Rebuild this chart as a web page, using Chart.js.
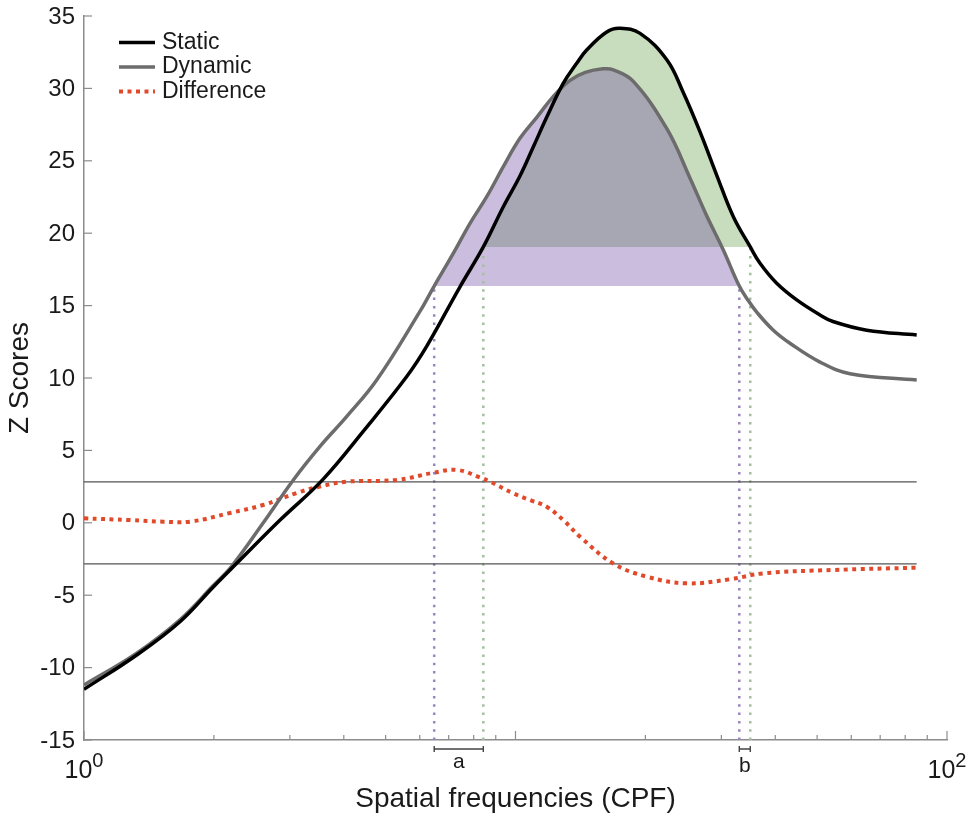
<!DOCTYPE html>
<html>
<head>
<meta charset="utf-8">
<script src="https://cdn.jsdelivr.net/npm/chart.js@4.4.1/dist/chart.umd.min.js"></script>
<style>
    html, body { margin: 0; padding: 0; background: #fff; }
    #wrap { width: 973px; height: 819px; position: relative; }
</style>
</head>
<body>
<div id="wrap"><canvas id="zChart"></canvas></div>
<script>
// --- Values (x = spatial frequency in CPF, y = Z score) ---
const staticFreq = [1, 1.325, 1.669, 1.991, 2.259, 2.847, 3.58, 4.432, 5.597, 6.228, 7.436, 8.422, 9.37, 10.24, 11.0, 11.81, 12.9, 13.86, 14.62, 16.27, 17.47, 19.44, 22.44, 24.45, 26.77, 29.27, 31.98, 35.0, 36.87, 40.3, 44.85, 50.78, 54.42, 65.15, 85.07];
const staticZ = [-11.5, -9.13, -6.83, -4.45, -2.8, 0.19, 3.0, 6.3, 10.1, 12.2, 16.3, 19.05, 21.83, 23.95, 25.97, 28.0, 30.35, 31.73, 32.65, 33.9, 34.15, 33.8, 31.96, 29.75, 27.0, 24.0, 21.14, 19.05, 17.92, 16.54, 15.39, 14.35, 13.9, 13.3, 12.97];

const dynamicFreq = [1, 1.325, 1.669, 1.991, 2.199, 2.603, 3.056, 3.52, 4.06, 4.768, 6.006, 6.48, 7.174, 7.845, 8.577, 9.37, 10.24, 11.2, 12.24, 13.38, 14.51, 15.95, 16.86, 18.73, 22.44, 25.38, 27.74, 30.31, 33.01, 34.63, 36.22, 39.58, 43.26, 50.78, 59.6, 85.07];
const dynamicZ = [-11.2, -9.0, -6.7, -4.35, -3.0, 0.0, 2.96, 5.26, 7.33, 9.86, 14.6, 16.35, 18.6, 20.68, 22.52, 24.59, 26.55, 28.0, 29.45, 30.55, 31.1, 31.35, 31.28, 30.5, 27.2, 23.8, 21.2, 18.84, 16.35, 15.35, 14.55, 13.3, 12.4, 11.1, 10.3, 9.86];

const diffFreq = [1, 1.278, 1.524, 1.761, 2.18, 2.6, 3.11, 3.52, 4.06, 5.31, 6.44, 7.31, 8.27, 8.73, 9.87, 10.8, 11.81, 12.9, 14.11, 16.83, 20.14, 24.94, 31.42, 37.53, 54.4, 85.07];
const diffZ = [0.31, 0.19, 0.08, 0.08, 0.68, 1.23, 2.06, 2.5, 2.84, 2.96, 3.45, 3.65, 3.14, 2.84, 2.04, 1.57, 1.11, 0.19, -0.96, -2.8, -3.72, -4.18, -3.9, -3.49, -3.26, -3.1];

// bands: frequency range [from, to] and the Z level the band sits on
const greenCut = [8.422, 35.0];
const greenLevel = 19.05;
const purpleCut = [6.48, 33.01];
const purpleLevel = 16.35;
const threshold = 2.83;

// axes
const xRange = [1, 100];
const yRange = [-15, 35];
const yTicks = [-15, -10, -5, 0, 5, 10, 15, 20, 25, 30, 35];
const xMajorTicks = [1, 10, 100];
const xMinorTicks = [2, 3, 4, 5, 6, 7, 8, 9, 20, 30, 40, 50, 60, 70, 80, 90];
const xTickExponents = [[1, '0'], [100, '2']];
const bracketLabels = ['a', 'b'];

const FONT = '"Liberation Sans", Arial, Helvetica, sans-serif';
const INK = '#1a1a1a';
const AXIS_GREY = '#8c8c8c';

const pts = (fx, fy) => fx.map((f, i) => ({ x: f, y: fy[i] }));
const between = (fx, fy, cut) => pts(fx, fy).filter(p => p.x >= cut[0] && p.x <= cut[1]);
const vline = (f, top) => [{ x: f, y: yRange[0] }, { x: f, y: top }];
const hline = v => [{ x: staticFreq[0], y: v }, { x: staticFreq[staticFreq.length - 1], y: v }];

const curve = { pointRadius: 0, tension: 0.4, fill: false };
const guide = { pointRadius: 0, fill: false, tension: 0 };

const datasets = [
    { ...curve, label: 'Static', data: pts(staticFreq, staticZ), borderColor: '#000', borderWidth: 3.5, order: 1, inLegend: true },
    { ...curve, label: 'Dynamic', data: pts(dynamicFreq, dynamicZ), borderColor: '#6c6c6c', borderWidth: 3.5, order: 2, inLegend: true },
    { ...curve, label: 'Difference', data: pts(diffFreq, diffZ), borderColor: '#e04a2a', borderWidth: 4, borderDash: [4, 4.5], order: 3, inLegend: true },
    { ...curve, label: 'static band', data: between(staticFreq, staticZ, greenCut), fill: { value: greenLevel },
      backgroundColor: 'rgba(98,155,69,0.35)', borderColor: 'rgba(0,0,0,0)', borderWidth: 0, order: 10 },
    { ...curve, label: 'dynamic band', data: between(dynamicFreq, dynamicZ, purpleCut), fill: { value: purpleLevel },
      backgroundColor: 'rgba(106,66,161,0.35)', borderColor: 'rgba(0,0,0,0)', borderWidth: 0, order: 9 },
    { ...guide, data: vline(purpleCut[0], purpleLevel), borderColor: '#9686c0', borderWidth: 2.5, borderDash: [2.5, 5.8], order: 8 },
    { ...guide, data: vline(purpleCut[1], purpleLevel), borderColor: '#9686c0', borderWidth: 2.5, borderDash: [2.5, 5.8], order: 8 },
    { ...guide, data: vline(greenCut[0], greenLevel), borderColor: '#a3bf9f', borderWidth: 2.5, borderDash: [2.5, 5.8], order: 8 },
    { ...guide, data: vline(greenCut[1], greenLevel), borderColor: '#a3bf9f', borderWidth: 2.5, borderDash: [2.5, 5.8], order: 8 },
    { ...guide, data: hline(threshold), borderColor: '#555', borderWidth: 1.2, order: 7 },
    { ...guide, data: hline(-threshold), borderColor: '#555', borderWidth: 1.2, order: 7 }
];

// ticks, tick labels, axis titles, brackets and the legend
const decorations = {
    id: 'decorations',
    afterDraw(chart) {
        const { ctx, chartArea: area, scales: { x, y } } = chart;
        ctx.save();
        ctx.strokeStyle = AXIS_GREY;
        ctx.lineWidth = 1.2;
        ctx.fillStyle = INK;

        // y ticks (inward) and labels
        ctx.font = `24px ${FONT}`;
        ctx.textAlign = 'right';
        ctx.textBaseline = 'middle';
        yTicks.forEach(v => {
            const py = y.getPixelForValue(v);
            ctx.beginPath();
            ctx.moveTo(area.left, py);
            ctx.lineTo(area.left + 8, py);
            ctx.stroke();
            ctx.fillText(String(v), area.left - 9, py + 1);
        });

        // x ticks (inward)
        const xTick = (v, len) => {
            const px = x.getPixelForValue(v);
            ctx.beginPath();
            ctx.moveTo(px, area.bottom);
            ctx.lineTo(px, area.bottom - len);
            ctx.stroke();
        };
        xMajorTicks.forEach(v => xTick(v, 9));
        xMinorTicks.forEach(v => xTick(v, 5));

        // x labels as 10^n
        ctx.textAlign = 'left';
        ctx.textBaseline = 'alphabetic';
        xTickExponents.forEach(([v, exp]) => {
            const px = x.getPixelForValue(v);
            ctx.font = `25px ${FONT}`;
            const wBase = ctx.measureText('10').width;
            ctx.font = `20px ${FONT}`;
            const wExp = ctx.measureText(exp).width;
            const start = px - (wBase + wExp) / 2;
            ctx.font = `25px ${FONT}`;
            ctx.fillText('10', start, area.bottom + 38);
            ctx.font = `20px ${FONT}`;
            ctx.fillText(exp, start + wBase, area.bottom + 27);
        });

        // brackets under the axis
        ctx.strokeStyle = '#444';
        ctx.lineWidth = 1.4;
        const brackets = [[purpleCut[0], greenCut[0], 28], [purpleCut[1], greenCut[1], 32]];
        ctx.font = `21px ${FONT}`;
        ctx.textAlign = 'center';
        brackets.forEach(([a, b, base], i) => {
            const x1 = x.getPixelForValue(a), x2 = x.getPixelForValue(b);
            const by = area.bottom + 9;
            ctx.beginPath();
            ctx.moveTo(x1, by); ctx.lineTo(x2, by);
            ctx.moveTo(x1, by - 3); ctx.lineTo(x1, by + 3);
            ctx.moveTo(x2, by - 3); ctx.lineTo(x2, by + 3);
            ctx.stroke();
            ctx.fillText(bracketLabels[i], (x1 + x2) / 2, area.bottom + base);
        });

        // axis titles
        ctx.font = `28px ${FONT}`;
        ctx.fillText('Spatial frequencies (CPF)', (area.left + area.right) / 2, area.bottom + 67);
        ctx.save();
        ctx.translate(28, (area.top + area.bottom) / 2);
        ctx.rotate(-Math.PI / 2);
        ctx.fillText('Z Scores', 0, 0);
        ctx.restore();

        // legend
        ctx.font = `23px ${FONT}`;
        ctx.textAlign = 'left';
        ctx.textBaseline = 'middle';
        chart.data.datasets.filter(d => d.inLegend).forEach((d, i) => {
            const ly = area.top + 26.5 + i * 24.5;
            ctx.strokeStyle = d.borderColor;
            ctx.lineWidth = d.borderWidth;
            ctx.setLineDash(d.borderDash || []);
            ctx.beginPath();
            ctx.moveTo(area.left + 35, ly);
            ctx.lineTo(area.left + 71, ly);
            ctx.stroke();
            ctx.setLineDash([]);
            ctx.fillText(d.label, area.left + 78, ly);
        });
        ctx.restore();
    }
};

new Chart(document.getElementById('zChart'), {
    type: 'line',
    data: { datasets },
    options: {
        responsive: true,
        maintainAspectRatio: false,
        animation: false,
        layout: { padding: { left: 84, top: 16, right: 26, bottom: 79 } },
        plugins: { legend: { display: false }, tooltip: { enabled: false } },
        scales: {
            x: {
                type: 'logarithmic', min: xRange[0], max: xRange[1],
                ticks: { display: false },
                grid: { display: false, drawTicks: false },
                border: { display: true, color: AXIS_GREY, width: 1.5 }
            },
            y: {
                type: 'linear', min: yRange[0], max: yRange[1],
                ticks: { display: false },
                grid: { display: false, drawTicks: false },
                border: { display: true, color: AXIS_GREY, width: 1.5 }
            }
        }
    },
    plugins: [decorations]
});
</script>
</body>
</html>
